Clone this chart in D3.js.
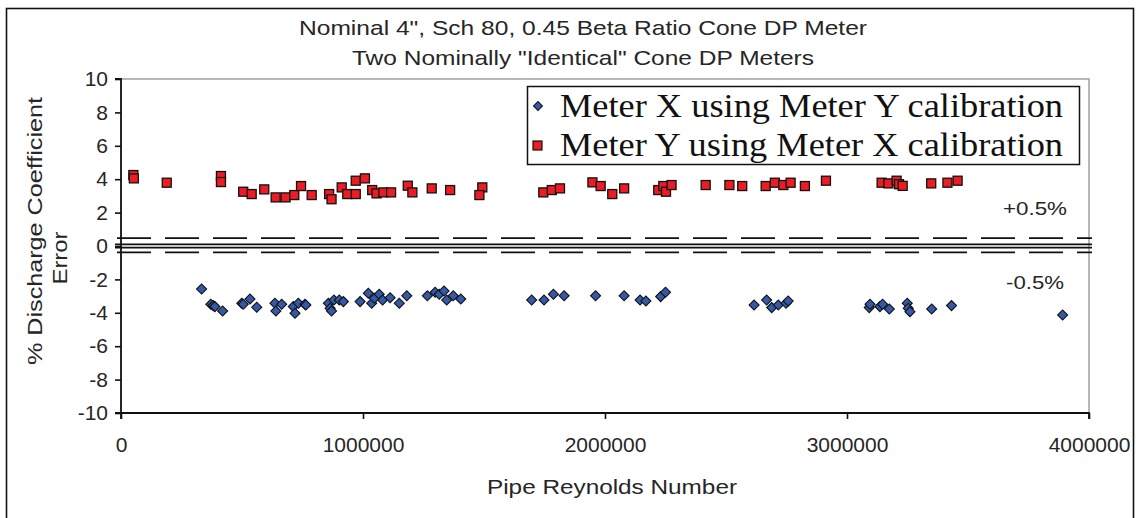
<!DOCTYPE html>
<html><head><meta charset="utf-8">
<script src="https://cdn.jsdelivr.net/npm/d3@7"></script>
<style>
html,body{margin:0;padding:0;background:#fff;}
svg{display:block;}
</style></head>
<body>
<svg id="chart" width="1141" height="518"></svg>
<script>
// ---- data ----
const titleLines = ['Nominal 4", Sch 80, 0.45 Beta Ratio Cone DP Meter', 'Two Nominally "Identical" Cone DP Meters'];
const yTitleLines = ["% Discharge Coefficient", "Error"];
const xTitle = "Pipe Reynolds Number";
const seriesNames = ["Meter X using Meter Y calibration", "Meter Y using Meter X calibration"];
const xTicks = [0, 1000000, 2000000, 3000000, 4000000];
const yTicks = [10, 8, 6, 4, 2, 0, -2, -4, -6, -8, -10];
const dashedLevels = [0.47, -0.38];
const solidLevels = [0.1, -0.1];
const bandLabels = ["+0.5%", "-0.5%"];

// Meter X using Meter Y calibration (blue diamonds)
const meterXRe = [333000,371000,381000,388000,420000,499000,505000,533000,561000,636000,640000,664000,712000,719000,733000,760000,764000,857000,864000,870000,880000,902000,919000,988000,1022000,1036000,1047000,1067000,1081000,1112000,1150000,1181000,1266000,1298000,1315000,1335000,1346000,1373000,1404000,1697000,1748000,1787000,1831000,1961000,2079000,2145000,2169000,2230000,2250000,2616000,2668000,2689000,2716000,2748000,2757000,3092000,3095000,3136000,3147000,3175000,3249000,3253000,3260000,3350000,3432000,3891000];
const meterXErr = [-2.57,-3.49,-3.57,-3.63,-3.89,-3.43,-3.49,-3.17,-3.67,-3.43,-3.89,-3.49,-3.63,-4.03,-3.43,-3.49,-3.53,-3.43,-3.73,-3.89,-3.23,-3.23,-3.33,-3.33,-2.83,-3.43,-3.13,-2.89,-3.23,-3.10,-3.43,-2.98,-2.98,-2.77,-2.89,-2.69,-3.23,-2.98,-3.17,-3.23,-3.23,-2.89,-2.98,-2.98,-2.98,-3.23,-3.29,-3.03,-2.77,-3.53,-3.23,-3.69,-3.53,-3.43,-3.29,-3.69,-3.49,-3.63,-3.49,-3.77,-3.43,-3.73,-3.93,-3.77,-3.57,-4.13];

// Meter Y using Meter X calibration (red squares)
const meterYRe = [51000,53000,189000,413000,413000,505000,540000,592000,639000,680000,716000,744000,788000,860000,870000,912000,935000,970000,970000,1008000,1038000,1056000,1084000,1116000,1185000,1204000,1284000,1360000,1493000,1481000,1745000,1780000,1814000,1948000,1982000,2030000,2079000,2220000,2241000,2252000,2275000,2416000,2514000,2567000,2664000,2702000,2737000,2767000,2826000,2913000,3143000,3171000,3205000,3215000,3230000,3348000,3415000,3457000];
const meterYErr = [4.25,4.05,3.79,4.19,3.83,3.25,3.11,3.39,2.91,2.91,3.05,3.59,3.05,3.11,2.8,3.51,3.11,3.11,3.91,4.05,3.35,3.15,3.21,3.21,3.61,3.21,3.45,3.35,3.51,3.05,3.21,3.35,3.45,3.81,3.59,3.11,3.45,3.35,3.59,3.25,3.65,3.65,3.65,3.59,3.59,3.79,3.65,3.79,3.59,3.91,3.79,3.75,3.91,3.7,3.6,3.75,3.79,3.91];

// ---- drawing ----
const svg = d3.select("#chart");
const W = 1141, H = 518;
const sans = '"Liberation Sans",Arial,sans-serif';
const serif = '"Liberation Serif","Times New Roman",serif';
const m = {left:121, right:1089, top:79, bottom:413};
const x = d3.scaleLinear().domain([0, 4000000]).range([m.left, m.right]);
const y = d3.scaleLinear().domain([-10, 10]).range([m.bottom, m.top]);
const blue = "#3459A9", red = "#EC1C24", ink = "#262626";
const fmt = d => String(d);

svg.append("rect").attr("width", W).attr("height", H).attr("fill", "#fff");
// outer border
svg.append("rect").attr("x", 6.5).attr("y", 8.5).attr("width", 1127).attr("height", 530)
  .attr("fill", "none").attr("stroke", "#111").attr("stroke-width", 1.6);

// titles
svg.append("g").selectAll("text").data(titleLines).join("text")
  .attr("x", 583).attr("y", (d,i) => 35 + i*30).attr("text-anchor", "middle")
  .attr("textLength", (d,i) => [568, 462][i]).attr("lengthAdjust", "spacingAndGlyphs")
  .style("font-family", sans).style("font-size", "21px").style("fill", ink).text(d => d);

// plot frame (grey top/right)
svg.append("path").attr("d", `M${m.left},${m.top}H${m.right}V${m.bottom}`)
  .attr("fill", "none").attr("stroke", "#a0a0a0").attr("stroke-width", 1.5);

// reference lines
svg.append("g").selectAll("line").data(dashedLevels).join("line")
  .attr("x1", m.left - 4).attr("x2", m.right + 3)
  .attr("y1", d => y(d)).attr("y2", d => y(d))
  .attr("stroke", "#111").attr("stroke-width", 1.6).attr("stroke-dasharray", "34,14");
svg.append("g").selectAll("line").data(solidLevels).join("line")
  .attr("x1", m.left - 6).attr("x2", m.right + 3)
  .attr("y1", d => y(d)).attr("y2", d => y(d))
  .attr("stroke", "#111").attr("stroke-width", 1.6);

// axes
const yAxis = d3.axisLeft(y).tickValues(yTicks).tickSize(6).tickPadding(7).tickFormat(fmt);
const gy = svg.append("g").attr("transform", `translate(${m.left},0)`).call(yAxis);
const xAxis = d3.axisBottom(x).tickValues(xTicks).tickSize(6).tickPadding(18).tickFormat(fmt);
const gx = svg.append("g").attr("transform", `translate(0,${m.bottom})`).call(xAxis);
[gx, gy].forEach(g => {
  g.select(".domain").attr("stroke", "#111").attr("stroke-width", 1.8);
  g.selectAll(".tick line").attr("stroke", "#111").attr("stroke-width", 1.6);
  g.selectAll(".tick text").style("font-size", "21px").style("fill", ink).style("font-family", sans);
});
gx.select(".domain").attr("d", `M${m.left},6V0H${m.right}V6`);
gy.select(".domain").attr("d", `M-6,${m.top}H0V${m.bottom}H-6`);

// axis titles
svg.append("text").attr("x", 612).attr("y", 494).attr("text-anchor", "middle")
  .attr("textLength", 250).attr("lengthAdjust", "spacingAndGlyphs")
  .style("font-family", sans).style("font-size", "21px").style("fill", ink).text(xTitle);
svg.append("g").selectAll("text").data(yTitleLines).join("text")
  .attr("transform", (d,i) => `translate(${42 + i*25},${[231, 258][i]}) rotate(-90)`)
  .attr("text-anchor", "middle")
  .attr("textLength", (d,i) => [268, 53][i]).attr("lengthAdjust", "spacingAndGlyphs")
  .style("font-family", sans).style("font-size", "21px").style("fill", ink).text(d => d);

// band labels
svg.append("g").selectAll("text").data(bandLabels).join("text")
  .attr("x", 1035).attr("y", (d,i) => [215, 289][i]).attr("text-anchor", "middle")
  .attr("textLength", (d,i) => [64, 58][i]).attr("lengthAdjust", "spacingAndGlyphs")
  .style("font-family", sans).style("font-size", "19px").style("fill", ink).text(d => d);

// data: red squares
const sq = 9;
svg.append("g").selectAll("rect").data(d3.zip(meterYRe, meterYErr)).join("rect")
  .attr("x", d => x(d[0]) - sq/2).attr("y", d => y(d[1]) - sq/2)
  .attr("width", sq).attr("height", sq)
  .attr("fill", red).attr("stroke", "#111").attr("stroke-width", 1.3);

// data: blue diamonds
svg.append("g").selectAll("path").data(d3.zip(meterXRe, meterXErr)).join("path")
  .attr("transform", d => `translate(${x(d[0])},${y(d[1])}) rotate(45)`)
  .attr("d", d3.symbol().type(d3.symbolSquare).size(50)())
  .attr("fill", blue).attr("stroke", "#111").attr("stroke-width", 1.1);

// legend
const lg = svg.append("g");
lg.append("rect").attr("x", 527.5).attr("y", 86.5).attr("width", 552).attr("height", 78)
  .attr("fill", "#fff").attr("stroke", "#111").attr("stroke-width", 1.5);
const rows = lg.selectAll("g.row").data(seriesNames).join("g").attr("class", "row")
  .attr("transform", (d,i) => `translate(0,${106 + i*39})`);
rows.filter((d,i) => i === 0).append("path")
  .attr("transform", "translate(538,0) rotate(45)")
  .attr("d", d3.symbol().type(d3.symbolSquare).size(40)())
  .attr("fill", blue).attr("stroke", "#111").attr("stroke-width", 1);
rows.filter((d,i) => i === 1).append("rect")
  .attr("x", 533).attr("y", -4).attr("width", 9).attr("height", 9)
  .attr("fill", red).attr("stroke", "#111").attr("stroke-width", 1.2);
rows.append("text").attr("x", 560).attr("y", 11)
  .attr("textLength", 503).attr("lengthAdjust", "spacingAndGlyphs")
  .style("font-family", serif).style("font-size", "33px").style("fill", "#111").text(d => d);
</script>
</body></html>
